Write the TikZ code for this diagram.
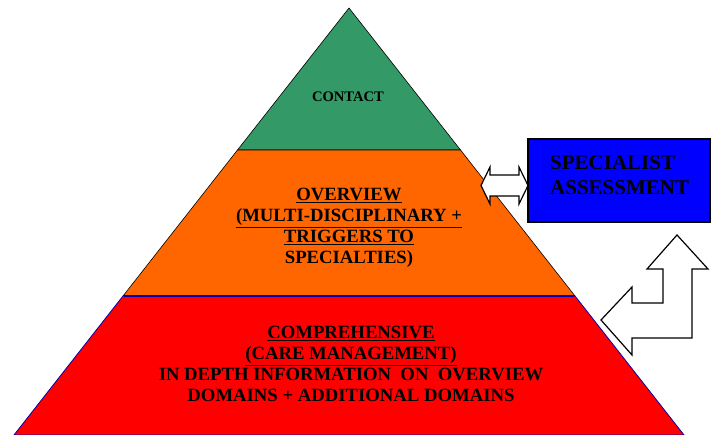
\documentclass[tikz,border=0pt]{standalone}
\usepackage{fontspec}
\setmainfont{Liberation Serif}
\usepackage{tikz}
\usetikzlibrary{positioning}
\definecolor{seagreen}{RGB}{51,153,102}
\definecolor{tangerine}{RGB}{255,102,0}
\tikzset{
  layertext/.style={font=\bfseries\fontsize{18.7}{21}\selectfont, align=center, anchor=base},
  blockarrow/.style={draw=black, fill=white, line width=1.2pt, line join=miter}
}
\begin{document}
\begin{tikzpicture}[x=1pt, y=-1pt]
      \useasboundingbox (0, 0) rectangle (712, 435);
      % pyramid layers
      \draw [fill=seagreen, draw=black, line width=0.6pt] (349, 8) -- (460.5, 150) -- (237.5, 150) -- cycle;
      \draw [fill=tangerine, draw=black, line width=0.6pt] (237.5, 150) -- (460.5, 150) -- (575, 296) -- (123, 296) -- cycle;
      \draw [fill=red, draw=blue!70!black, line width=0.8pt] (123, 296) -- (575, 296) -- (684, 435) -- (14, 435) -- cycle;
      \draw [blue!70!black, line width=1.6pt] (124, 296) -- (574, 296);
      \node (contact) [layertext, font=\bfseries\fontsize{14.6}{17}\selectfont] at (348, 102) {CONTACT};
      \node (overview) [layertext] at (349, 264)
            {\underline{OVERVIEW}\\ \underline{(MULTI-DISCIPLINARY +}\\ \underline{TRIGGERS TO}\\ SPECIALTIES)};
      \node (compr) [layertext] at (351, 402)
            {\underline{COMPREHENSIVE}\\ \underline{(CARE MANAGEMENT)}\\ IN DEPTH INFORMATION\ \ ON\ \ OVERVIEW\\ DOMAINS + ADDITIONAL DOMAINS};
      % specialist box
      \draw [fill=blue, draw=black, line width=1.5pt] (528, 139) rectangle (710, 222);
      \node (spec) [font=\bfseries\fontsize{21}{25}\selectfont, align=left, anchor=base west, inner sep=0pt] at (550, 195)
            {SPECIALIST\\ ASSESSMENT};
      % arrows
      \draw [blockarrow] (481, 185.5) -- (490, 167) -- (490, 175) -- (519, 175) -- (519, 167) -- (528, 185.5)
            -- (519, 204) -- (519, 196) -- (490, 196) -- (490, 204) -- cycle;
      \draw [blockarrow] (601, 320) -- (632, 287) -- (632, 303) -- (663, 303) -- (663, 269) -- (647, 269)
            -- (677, 235) -- (708, 269) -- (692, 269) -- (692, 338) -- (632, 338) -- (632, 355) -- cycle;
\end{tikzpicture}
\end{document}
